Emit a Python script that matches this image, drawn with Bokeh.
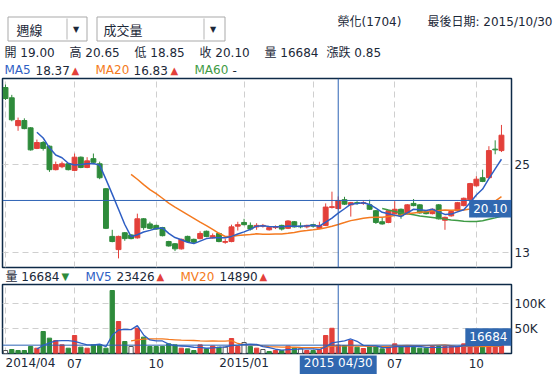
import numpy as np
import pandas as pd
from bokeh.plotting import figure
from bokeh.models import Range1d, LinearAxis, FixedTicker, Span, Label, Grid, ColumnDataSource
from bokeh.layouts import column, row
from bokeh.embed import file_html
from bokeh.resources import INLINE
from bokeh.core.properties import value

# ---------------- data (weekly bars, 2014/04 .. 2015/10/30) ----------------
opens = [35.5, 34.1, 30.3, 31.0, 30.0, 27.2, 28.0, 27.5, 24.3, 24.7,
         25.1, 24.2, 26.0, 24.6, 25.8, 25.1, 21.7, 15.2, 13.4, 15.7,
         15.4, 15.0, 17.6, 16.9, 16.7, 16.4, 14.5, 14.2, 13.5, 15.2,
         14.8, 14.9, 15.9, 15.0, 15.6, 14.4, 14.5, 16.6, 17.1, 16.7,
         16.5, 16.6, 16.1, 16.4, 16.7, 16.3, 17.2, 16.6, 16.5, 16.8,
         16.3, 16.7, 19.15, 19.0, 20.2, 19.5, 19.8, 19.7, 19.5, 18.7,
         17.2, 17.1, 18.3, 18.9, 18.3, 19.7, 19.5, 18.6, 18.3, 19.5,
         17.4, 18.0, 18.7, 19.4, 20.2, 22.1, 23.2, 23.2, 27.1, 26.9]
highs = [35.9, 34.5, 31.4, 31.3, 30.1, 28.4, 28.2, 27.6, 25.4, 25.4,
         25.2, 26.5, 26.1, 26.0, 26.5, 25.4, 21.8, 16.1, 15.3, 15.8,
         15.5, 18.3, 17.7, 17.2, 16.8, 16.5, 14.6, 14.3, 14.9, 15.3,
         14.9, 15.9, 16.0, 15.6, 15.7, 14.9, 16.8, 17.2, 17.6, 17.1,
         17.0, 16.9, 16.5, 16.7, 16.8, 17.4, 17.3, 17.1, 16.8, 16.9,
         17.2, 19.7, 21.3, 20.65, 20.6, 19.9, 20.0, 20.0, 20.2, 18.8,
         17.8, 18.8, 20.0, 19.0, 19.6, 20.3, 19.6, 18.7, 19.0, 19.6,
         17.9, 18.7, 19.9, 20.5, 22.5, 23.4, 24.3, 27.5, 28.3, 30.4]
lows = [33.8, 30.9, 29.6, 29.8, 26.9, 27.1, 26.9, 24.0, 24.2, 24.5,
        24.2, 24.1, 24.5, 24.5, 25.2, 23.0, 16.2, 14.4, 12.2, 14.6,
        14.8, 14.9, 16.1, 16.2, 16.1, 15.2, 13.8, 13.2, 13.4, 14.4,
        14.3, 14.8, 15.1, 14.9, 14.4, 14.2, 14.4, 16.0, 16.7, 16.0,
        16.1, 16.4, 16.0, 16.2, 16.0, 16.2, 16.4, 16.3, 16.3, 16.4,
        16.2, 16.6, 19.0, 18.85, 19.5, 17.9, 19.5, 19.5, 18.8, 16.9,
        16.8, 17.0, 18.2, 17.6, 18.2, 19.3, 18.3, 18.2, 18.2, 17.5,
        16.1, 17.9, 18.6, 19.3, 20.1, 22.0, 22.6, 23.1, 26.4, 26.7]
closes = [34.0, 31.1, 31.0, 29.9, 27.0, 28.0, 27.2, 24.3, 25.0, 25.1,
          24.3, 26.0, 24.6, 25.5, 25.3, 23.2, 16.3, 14.5, 15.2, 14.9,
          14.9, 17.6, 16.4, 16.3, 16.2, 15.3, 13.9, 13.5, 14.8, 14.5,
          14.4, 15.6, 15.2, 15.3, 14.5, 14.5, 16.5, 16.8, 16.8, 16.2,
          16.7, 16.7, 16.4, 16.5, 16.2, 17.3, 16.5, 16.5, 16.7, 16.6,
          16.7, 19.2, 19.25, 20.10, 19.6, 19.8, 19.7, 19.8, 18.9, 17.1,
          16.9, 18.7, 18.9, 18.0, 19.5, 19.4, 18.4, 18.3, 18.9, 17.6,
          17.8, 18.6, 19.8, 20.4, 22.4, 23.0, 22.7, 26.9, 27.0, 29.0]
volumes = [6000, 8000, 6000, 6000, 14000, 10600, 44000, 30700, 26000, 17300,
           10600, 36000, 12700, 10600, 17300, 17300, 10600, 126000, 64000, 24000,
           14000, 50700, 32700, 14000, 14000, 14000, 19300, 17300, 10600, 9300,
           6000, 17300, 9300, 15000, 12700, 12700, 30000, 14000, 22000, 13870,
           10700, 8000, 4000, 6000, 6000, 14700, 10700, 9300, 6000, 6000,
           8000, 36000, 50446, 16684, 16000, 26000, 12700, 10000, 14000, 14000,
           9300, 12000, 19300, 14000, 14000, 12000, 10700, 10700, 14000, 14000,
           14000, 14000, 14000, 19300, 16000, 16000, 16000, 16000, 16000, 16000]

tick_idx = [0, 11, 24, 38, 49, 62, 75]
tick_lbl = ["2014/04", "07", "10", "2015/01", "04", "07", "10"]
price_ticks = [13, 25]
vol_ticks = [50000, 100000]
vol_tick_lbl = ["50K", "100K"]

stock_name = "榮化(1704)"
last_date = "2015/10/30"
sel = 53                 # crosshair week
sel_date = "2015 04/30"

# ---------------- styling ----------------
FONT = "DejaVu Sans, Noto Sans CJK TC"
CJK = "Noto Sans CJK TC"
DARK = "#1b2838"
RED = "#e3403a"
GREEN = "#2e8b3b"
WHITE = "#ffffff"
MA5C = "#2f5fc4"
MA20C = "#f47a20"
MA60C = "#3f9b45"
CROSS = "#2d63b5"
LBLBG = "#3068b0"
GRIDC = "#cfcfcf"
FRAMEC = "#0e2a47"
BL, BR = 2, 44           # left / right borders of the two chart panels

o = np.array(opens); h = np.array(highs); l = np.array(lows); c = np.array(closes)
v = np.array(volumes, dtype=float)
n = len(c)
idx = np.arange(n)


def mov(arr, w):
    s = pd.Series(arr, dtype=float).rolling(w).mean()
    s[s.index < w] = np.nan
    return s.to_numpy()


ma5, ma20, ma60 = mov(c, 5), mov(c, 20), mov(c, 60)
mv5, mv20 = mov(v, 5), mov(v, 20)

candle_col = [RED if c[i] >= o[i] else GREEN for i in range(n)]
vfill, vline = [], []
for i in range(n):
    if i == 0 or np.isclose(c[i], c[i - 1]):
        vfill.append(WHITE); vline.append("#555555")
    elif c[i] > c[i - 1]:
        vfill.append(RED); vline.append(RED)
    else:
        vfill.append(GREEN); vline.append(GREEN)

src = ColumnDataSource(dict(x=idx, o=o, h=h, l=l, c=c, top=np.maximum(o, c), bot=np.minimum(o, c),
                            col=candle_col, v=v, vf=vfill, vl=vline,
                            ma5=ma5, ma20=ma20, ma60=ma60, mv5=mv5, mv20=mv20))

XR = Range1d(-0.48, 80.6)


def strip(hgt, xr=None, bl=0, br=0):
    f = figure(width=555, height=hgt, x_range=xr if xr is not None else Range1d(0, 555),
               y_range=Range1d(hgt, 0), toolbar_location=None, output_backend="svg",
               x_axis_location=None, y_axis_location=None,
               min_border_left=bl, min_border_right=br, min_border_top=0, min_border_bottom=0)
    f.outline_line_color = None
    f.grid.visible = False
    f.background_fill_color = "white"
    f.border_fill_color = "white"
    return f


def txt(f, x, y, s, color=DARK, size="12px", align="left", font=FONT):
    f.text(x=[x], y=[y], text=[s], text_color=color, text_font=value(font),
           text_font_size=size, text_align=align, text_baseline="middle")


def fmt(x, d=2):
    return "-" if np.isnan(x) else f"{x:.{d}f}"


def arrow(arr, i):
    if np.isnan(arr[i]) or np.isnan(arr[i - 1]):
        return None
    return ("▲", RED) if arr[i] >= arr[i - 1] else ("▼", GREEN)


def right_axis(ticks, overrides=None):
    ax = LinearAxis(ticker=FixedTicker(ticks=ticks), axis_line_color=None,
                    major_tick_line_color=None, minor_tick_line_color=None,
                    major_tick_in=0, major_tick_out=0, minor_tick_in=0, minor_tick_out=0,
                    major_label_standoff=3, major_label_text_font=FONT,
                    major_label_text_font_size="12px", major_label_text_color=DARK)
    if overrides:
        ax.major_label_overrides = overrides
    return ax


# ---------------- header ----------------
hd = strip(77)
hd.quad(left=[7.5, 96.5], right=[86.5, 224.5], top=[16.5, 16.5], bottom=[40.5, 40.5],
        fill_color="white", line_color="#a9a9a9")
hd.segment(x0=[66.5, 203.5], y0=[18, 18], x1=[66.5, 203.5], y1=[39, 39], line_color="#b5b5b5")
txt(hd, 75.5, 28.5, "▼", size="8px", align="center")
txt(hd, 212.5, 28.5, "▼", size="8px", align="center")
txt(hd, 16, 28.5, "週線", size="13px", font=CJK)
txt(hd, 103, 28.5, "成交量", size="13px", font=CJK)
txt(hd, 337, 21, stock_name)
txt(hd, 552, 21, "最後日期: " + last_date, align="right")

row2 = [(4, f"開 {o[sel]:.2f}"), (69, f"高 {h[sel]:.2f}"), (134, f"低 {l[sel]:.2f}"),
        (199, f"收 {c[sel]:.2f}"), (264, f"量 {int(v[sel])}"), (326, f"漲跌 {c[sel] - c[sel - 1]:.2f}")]
for x, s in row2:
    txt(hd, x, 52, s)

Y3 = 69.5
txt(hd, 4, Y3, "MA5", color=MA5C)
txt(hd, 35, Y3, fmt(ma5[sel]))
a = arrow(ma5, sel)
if a: txt(hd, 71, Y3, a[0], color=a[1], size="10px")
txt(hd, 95, Y3, "MA20", color=MA20C)
txt(hd, 133, Y3, fmt(ma20[sel]))
a = arrow(ma20, sel)
if a: txt(hd, 170, Y3, a[0], color=a[1], size="10px")
txt(hd, 194, Y3, "MA60", color=MA60C)
txt(hd, 232, Y3, fmt(ma60[sel]))

# ---------------- price panel ----------------
p = figure(width=555, height=192, x_range=XR, y_range=Range1d(10.96, 36.73),
           toolbar_location=None, output_backend="svg", x_axis_location=None, y_axis_location=None,
           min_border_left=BL, min_border_right=BR, min_border_top=1, min_border_bottom=2)
p.grid.visible = False
p.outline_line_color = FRAMEC
p.outline_line_width = 1.5
p.add_layout(Grid(dimension=0, ticker=FixedTicker(ticks=tick_idx), grid_line_color=GRIDC, grid_line_dash="6 4"))
p.add_layout(Grid(dimension=1, ticker=FixedTicker(ticks=price_ticks), grid_line_color=GRIDC, grid_line_dash="6 4"))
p.add_layout(right_axis(price_ticks), "right")

p.segment(x0="x", y0="h", x1="x", y1="l", line_color="col", line_width=1, source=src)
p.vbar(x="x", width=0.78, top="top", bottom="bot", fill_color="col", line_color="col", source=src)
p.line("x", "ma60", source=src, line_color=MA60C, line_width=1.5)
p.line("x", "ma20", source=src, line_color=MA20C, line_width=1.5)
p.line("x", "ma5", source=src, line_color=MA5C, line_width=1.5)
p.add_layout(Span(location=sel, dimension="height", line_color=CROSS, line_width=1))
p.add_layout(Span(location=c[sel], dimension="width", line_color=CROSS, line_width=1))
p.add_layout(Label(x=XR.end, y=c[sel], text=f"{c[sel]:.2f}",
                   text_align="right", text_baseline="top", text_color="white",
                   text_font=FONT, text_font_size="12px",
                   background_fill_color=LBLBG, padding=4))

# ---------------- volume header ----------------
vh = strip(14)
txt(vh, 5, 7, f"量 {int(v[sel])}")
a = arrow(v, sel)
if a: txt(vh, 61, 7, a[0], color=a[1], size="10px")
txt(vh, 85, 7, "MV5", color=MA5C)
txt(vh, 116, 7, fmt(mv5[sel], 0))
a = arrow(mv5, sel)
if a: txt(vh, 156, 7, a[0], color=a[1], size="10px")
txt(vh, 180, 7, "MV20", color=MA20C)
txt(vh, 219, 7, fmt(mv20[sel], 0))
a = arrow(mv20, sel)
if a: txt(vh, 259, 7, a[0], color=a[1], size="10px")

# ---------------- volume panel ----------------
vp = figure(width=555, height=72, x_range=XR, y_range=Range1d(0, 138000),
            toolbar_location=None, output_backend="svg", x_axis_location=None, y_axis_location=None,
            min_border_left=BL, min_border_right=BR, min_border_top=1, min_border_bottom=2)
vp.grid.visible = False
vp.outline_line_color = FRAMEC
vp.outline_line_width = 1.5
vp.add_layout(Grid(dimension=0, ticker=FixedTicker(ticks=tick_idx), grid_line_color=GRIDC, grid_line_dash="6 4"))
vp.add_layout(Grid(dimension=1, ticker=FixedTicker(ticks=vol_ticks), grid_line_color=GRIDC, grid_line_dash="6 4"))
vp.add_layout(right_axis(vol_ticks, {t: s for t, s in zip(vol_ticks, vol_tick_lbl)}), "right")
vp.vbar(x="x", width=0.68, top="v", bottom=0, fill_color="vf", line_color="vl", source=src)
vp.line("x", "mv20", source=src, line_color=MA20C, line_width=1.3)
vp.line("x", "mv5", source=src, line_color=MA5C, line_width=1.3)
vp.add_layout(Span(location=sel, dimension="height", line_color=CROSS, line_width=1))
vp.add_layout(Span(location=v[sel], dimension="width", line_color=CROSS, line_width=1))
vp.add_layout(Label(x=XR.end, y=v[sel], text=f"{int(v[sel])}",
                    text_align="right", text_baseline="bottom", text_color="white",
                    text_font=FONT, text_font_size="12px",
                    background_fill_color=LBLBG, padding=4))

# ---------------- x labels ----------------
xl = strip(23, xr=XR, bl=BL, br=BR)
xl.text(x=tick_idx[:1], y=[7.5], text=tick_lbl[:1], text_color=DARK, text_font=value(FONT),
        text_font_size="12px", text_align="left", text_baseline="middle")
xl.text(x=tick_idx[1:], y=[7.5] * (len(tick_idx) - 1), text=tick_lbl[1:], text_color=DARK,
        text_font=value(FONT), text_font_size="12px", text_align="center", text_baseline="middle")
xl.add_layout(Label(x=sel, y=7.5, text=sel_date, text_align="center", text_baseline="middle",
                    text_color="white", text_font=FONT, text_font_size="12px",
                    background_fill_color=LBLBG, padding=4))

layout = column(column(hd, spacing=0), p, row(vh, spacing=0), vp, xl, spacing=0)
open("out.html", "w").write(file_html(layout, INLINE))
